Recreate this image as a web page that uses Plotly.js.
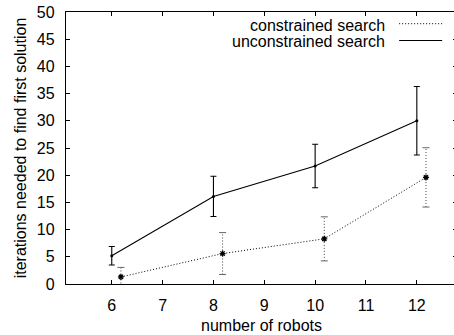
<!DOCTYPE html>
<html>
<head>
<meta charset="utf-8">
<script src="https://cdn.plot.ly/plotly-3.0.1.min.js"></script>
<style>
html,body{margin:0;padding:0;overflow:hidden;background:#fff;}
#chart{width:470px;height:335px;}
</style>
</head>
<body>
<div id="chart"></div>
<script>
// Data
const robots = [6, 8, 10, 12];
const unconstrainedMean = [5.2, 16.1, 21.7, 30.0];
const unconstrainedErr = [1.7, 3.7, 4.0, 6.3];
const constrainedMean = [1.3, 5.6, 8.3, 19.6];
const constrainedErr = [1.75, 3.85, 4.05, 5.45];
const xTicks = [6, 7, 8, 9, 10, 11, 12];
const yTicks = [0, 5, 10, 15, 20, 25, 30, 35, 40, 45, 50];
const seriesNames = ['constrained search', 'unconstrained search'];

const shift = 0.18;
const cx = robots.map(r => r + shift);

// dotted error bars for constrained series, built from the arrays
const ebX = [], ebY = [];
cx.forEach((x, i) => {
  ebX.push(x, x, null);
  ebY.push(constrainedMean[i] - constrainedErr[i], constrainedMean[i] + constrainedErr[i], null);
});

const font = {family: 'Liberation Sans, Arial, sans-serif', size: 16, color: '#000'};
const tickFont = {family: 'Liberation Sans, Arial, sans-serif', size: 16, color: '#000'};

const traces = [
  {
    x: robots, y: unconstrainedMean, type: 'scatter', mode: 'lines+markers',
    name: seriesNames[1], showlegend: false,
    line: {color: '#000', width: 1.1},
    marker: {color: '#000', size: 3, symbol: 'circle'},
    error_y: {type: 'data', array: unconstrainedErr, visible: true, color: '#000', thickness: 1.1, width: 3}
  },
  {
    x: ebX, y: ebY, type: 'scatter', mode: 'lines+markers',
    showlegend: false, hoverinfo: 'skip',
    line: {color: '#444', width: 1, dash: '1px,2px'},
    marker: {symbol: 'line-ew-open', size: 5, color: '#666', line: {color: '#666', width: 1}}
  },
  {
    x: cx, y: constrainedMean, type: 'scatter', mode: 'lines+markers',
    name: seriesNames[0], showlegend: false,
    line: {color: '#000', width: 1, dash: '1px,2px'},
    marker: {color: '#000', size: 5, symbol: 'asterisk-open', line: {color: '#000', width: 1.3}}
  }
];

const layout = {
  width: 470, height: 335,
  margin: {l: 66, r: 13, t: 12, b: 51},
  paper_bgcolor: '#fff', plot_bgcolor: '#fff',
  font: font,
  showlegend: false,
  xaxis: {
    range: [5.1, 12.79], tickvals: xTicks, ticktext: xTicks.map(String),
    ticks: 'inside', ticklen: 4, tickcolor: '#000', tickwidth: 1,
    showline: true, linecolor: '#000', linewidth: 1.2, mirror: 'ticks',
    showgrid: false, zeroline: false, ticklabelstandoff: 7, tickfont: tickFont,
    title: {text: 'number of robots', font: font, standoff: 6}
  },
  yaxis: {
    range: [0, 50], tickvals: yTicks, ticktext: yTicks.map(String),
    ticks: 'inside', ticklen: 4, tickcolor: '#000', tickwidth: 1,
    showline: true, linecolor: '#000', linewidth: 1.2, mirror: 'ticks',
    showgrid: false, zeroline: false, ticklabelstandoff: 7, tickfont: tickFont,
    title: {text: 'iterations needed to find first solution', font: font, standoff: 6}
  },
  annotations: [
    {xref: 'paper', yref: 'paper', x: 0.821, y: 0.952, xanchor: 'right', yanchor: 'middle',
     text: seriesNames[0], showarrow: false, font: font},
    {xref: 'paper', yref: 'paper', x: 0.821, y: 0.893, xanchor: 'right', yanchor: 'middle',
     text: seriesNames[1], showarrow: false, font: font}
  ],
  shapes: [
    {type: 'line', xref: 'paper', yref: 'paper', x0: 0.852, x1: 0.962, y0: 0.957, y1: 0.957,
     line: {color: '#000', width: 1, dash: '1px,2px'}},
    {type: 'line', xref: 'paper', yref: 'paper', x0: 0.852, x1: 0.962, y0: 0.895, y1: 0.895,
     line: {color: '#000', width: 1.1}}
  ]
};

Plotly.newPlot('chart', traces, layout, {staticPlot: true, displayModeBar: false});
</script>
</body>
</html>
